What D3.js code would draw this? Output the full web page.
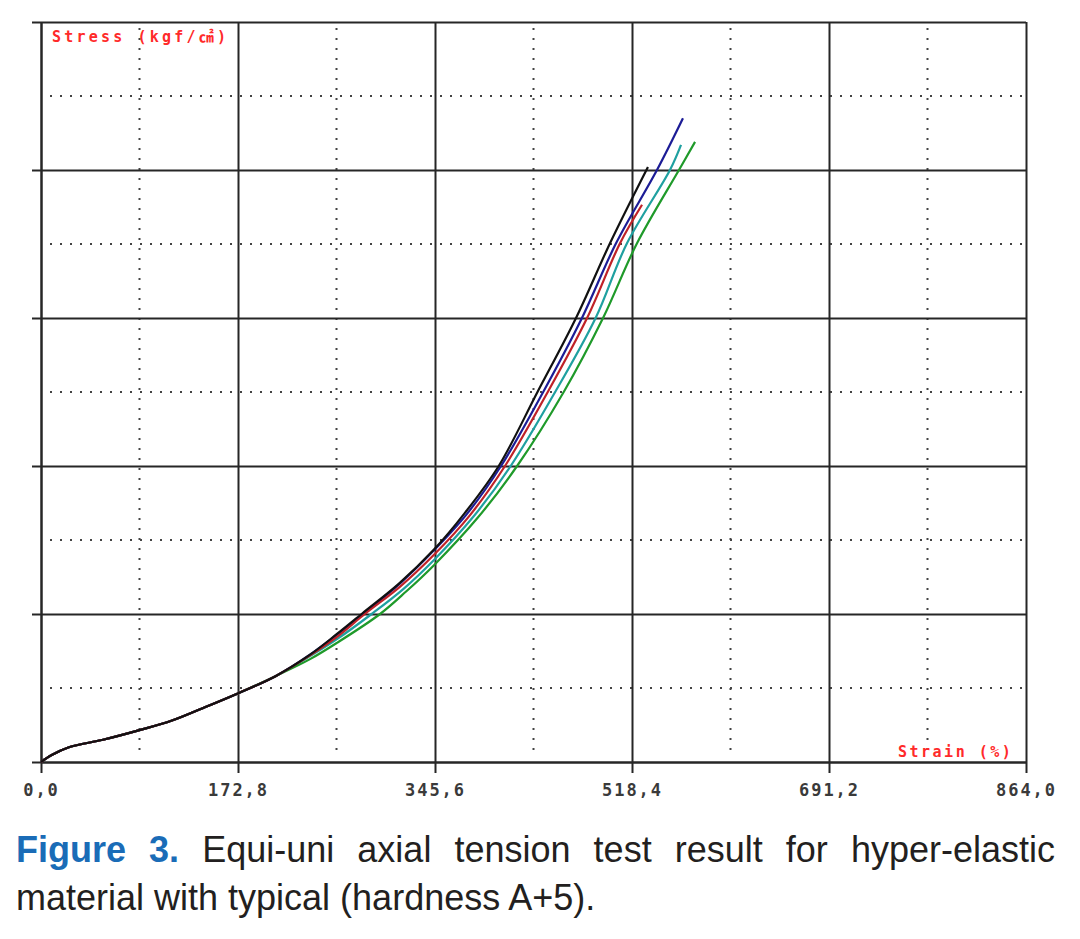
<!DOCTYPE html>
<html>

<head>
  <title>Equi-uni axial tension test</title>
  <script src="https://cdn.jsdelivr.net/npm/d3@7/dist/d3.min.js"></script>
  <style type="text/css">
    html,
    body {
      margin: 0;
      padding: 0;
      background: #fff;
    }

    svg {
      display: block;
    }

    .axis .domain,
    .axis .tick line {
      stroke: #262626;
      stroke-width: 2px;
    }

    .axis text {
      font-family: "DejaVu Sans Mono", monospace;
      font-size: 17px;
      font-weight: bold;
      letter-spacing: 2px;
      fill: #3a3a3a;
    }

    .minor line {
      stroke: #444;
      stroke-width: 2px;
      stroke-dasharray: 2 8;
    }

    .unit {
      font-family: "DejaVu Sans Mono", "Noto Sans CJK KR", monospace;
      font-size: 15px;
      font-weight: bold;
      fill: #ff2a2a;
    }

    .caption {
      font-family: "Liberation Sans", Arial, sans-serif;
      font-size: 36px;
      fill: #231f20;
    }
  </style>
</head>

<body>
  <svg class="svg"></svg>
  <script type="text/javascript">
    // tick values
    var xTicks = [0, 172.8, 345.6, 518.4, 691.2, 864.0];
    var xMinor = [86.4, 259.2, 432.0, 604.8, 777.6];
    var yTicks = [0, 20, 40, 60, 80, 100];
    var yMinor = [10, 30, 50, 70, 90];

    // common start of all five curves (strain %, stress)
    var baseStrain = [0, 9.4, 24.5, 54.4, 86.4, 114.9, 145.3, 173.1, 205.7];
    var baseStress = [0, 0.95, 2.0, 3.0, 4.3, 5.6, 7.5, 9.3, 11.6];

    // the part where the samples split
    var blackStrain = [236.0, 259.6, 282.0, 314.0, 344.7, 372.0, 401.5, 435.5, 469.3, 499.1, 532.4];
    var blackStress = [14.5, 17.3, 20.1, 24.1, 28.7, 33.7, 40.0, 50.0, 60.0, 70.1, 80.4];

    var blueStrain = [236.0, 259.6, 282.4, 314.0, 344.7, 373.5, 403.5, 440.5, 474.5, 504.4, 540.3, 563.1];
    var blueStress = [14.5, 17.2, 20.0, 24.0, 28.6, 33.5, 40.0, 50.0, 60.0, 70.1, 80.0, 87.0];

    var redStrain = [236.0, 259.6, 284.0, 315.0, 344.7, 376.0, 407.0, 444.5, 479.0, 507.9, 527.2];
    var redStress = [14.4, 16.9, 20.0, 23.7, 28.0, 33.3, 40.0, 50.0, 60.0, 70.1, 75.3];

    var cyanStrain = [236.0, 259.6, 290.0, 318.0, 344.7, 379.0, 412.0, 451.0, 486.5, 514.0, 551.7, 561.4];
    var cyanStress = [14.3, 16.6, 20.0, 23.4, 27.3, 33.1, 40.0, 50.0, 60.0, 70.1, 80.0, 83.4];

    var greenStrain = [236.0, 259.6, 297.4, 320.0, 344.7, 383.0, 417.6, 458.5, 493.0, 522.8, 559.6, 573.7];
    var greenStress = [13.9, 16.1, 20.0, 23.0, 26.6, 33.0, 40.0, 50.0, 60.0, 70.1, 80.0, 83.8];

    var series = [
      { color: '#1fa0a0', strain: cyanStrain, stress: cyanStress },
      { color: '#1f9a2a', strain: greenStrain, stress: greenStress },
      { color: '#1c1c96', strain: blueStrain, stress: blueStress },
      { color: '#bf2228', strain: redStrain, stress: redStress },
      { color: '#111111', strain: blackStrain, stress: blackStress }
    ];

    var captionLine1 = ['Equi-uni', 'axial', 'tension', 'test', 'result', 'for', 'hyper-elastic'];
    var captionLine2 = 'material with typical (hardness A+5).';

    var svg = d3.select('.svg')
      .attr('width', 1080)
      .attr('height', 939);

    var marginLeft = 41,
      marginTop = 22,
      width = 985,
      height = 740;

    var xScale = d3.scaleLinear()
      .domain([0, 864])
      .range([0, width]);

    var yScale = d3.scaleLinear()
      .domain([0, 100])
      .range([height, 0]);

    var plot = svg.append('g')
      .attr('transform', `translate(${marginLeft}, ${marginTop})`);

    // dotted grid
    var minor = plot.append('g').attr('class', 'minor');
    minor.selectAll('.mx')
      .data(xMinor)
      .enter()
      .append('line')
      .attr('x1', d => xScale(d))
      .attr('x2', d => xScale(d))
      .attr('y1', 6)
      .attr('y2', height - 4);
    minor.selectAll('.my')
      .data(yMinor)
      .enter()
      .append('line')
      .attr('y1', d => yScale(d))
      .attr('y2', d => yScale(d))
      .attr('x1', 9)
      .attr('x2', width - 4);

    // solid grid through the axes
    var xAxis = d3.axisBottom()
      .scale(xScale)
      .tickValues(xTicks)
      .tickSizeInner(-height)
      .tickSizeOuter(0)
      .tickFormat(d => d3.format('.1f')(d).replace('.', ','));

    var yAxis = d3.axisLeft()
      .scale(yScale)
      .tickValues(yTicks)
      .tickSizeInner(-width)
      .tickSizeOuter(0)
      .tickFormat('');

    plot.append('g')
      .attr('class', 'y axis')
      .call(yAxis)
      .selectAll('.tick line')
      .attr('x1', -9);

    var gx = plot.append('g')
      .attr('class', 'x axis')
      .attr('transform', `translate(0, ${height})`)
      .call(xAxis);

    gx.selectAll('.tick line').attr('y1', 11);
    gx.selectAll('.tick text')
      .attr('y', 22)
      .attr('dy', '0.71em');

    // curves
    var line = d3.line()
      .x(d => xScale(d[0]))
      .y(d => yScale(d[1]))
      .curve(d3.curveCatmullRom);

    plot.selectAll('path.curve')
      .data(series)
      .enter()
      .append('path')
      .classed('curve', true)
      .attr('fill', 'none')
      .attr('stroke', d => d.color)
      .attr('stroke-width', 2.2)
      .attr('d', d => line(d3.zip(baseStrain.concat(d.strain), baseStress.concat(d.stress))));

    // axis names
    svg.append('text')
      .attr('class', 'unit')
      .attr('x', 52)
      .attr('y', 42)
      .attr('letter-spacing', 3.2)
      .text('Stress (kgf/㎠)');

    svg.append('text')
      .attr('class', 'unit')
      .attr('x', 898)
      .attr('y', 757)
      .attr('letter-spacing', 2.5)
      .text('Strain (%)');

    // caption, first line justified
    var capX0 = 16,
      capX1 = 1055;
    var cap = svg.append('g').attr('class', 'caption');
    var words = [{ t: 'Figure', bold: true }, { t: '3.', bold: true }]
      .concat(captionLine1.map(t => ({ t: t, bold: false })));

    var nodes = cap.selectAll('text.w')
      .data(words)
      .enter()
      .append('text')
      .attr('class', 'w')
      .attr('y', 862)
      .attr('font-weight', d => d.bold ? 'bold' : null)
      .attr('fill', d => d.bold ? '#1a6cb7' : null)
      .text(d => d.t);

    var widths = nodes.nodes().map(n => n.getComputedTextLength());
    var gap = (capX1 - capX0 - d3.sum(widths)) / (words.length - 1);
    var pos = capX0;
    nodes.attr('x', (d, i) => {
      var p = pos;
      pos += widths[i] + gap;
      return p;
    });

    cap.append('text')
      .attr('x', capX0)
      .attr('y', 910)
      .text(captionLine2);
  </script>
</body>

</html>
